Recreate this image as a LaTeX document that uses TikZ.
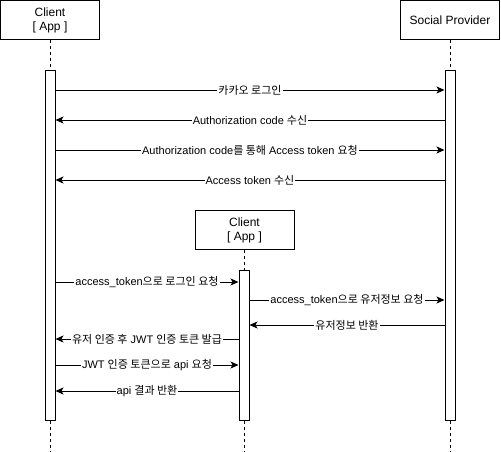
\documentclass[tikz,border=0pt]{standalone}
\usepackage{fontspec}
\setmainfont{Liberation Sans}
\newfontfamily\kr{Noto Sans CJK KR}[Scale=1.0]
\usetikzlibrary{arrows.meta}
\tikzset{
  actorbox/.style={draw=black, line width=1pt, fill=white, minimum width=99pt, minimum height=39pt, align=center, font=\fontsize{12}{14}\selectfont, inner sep=0pt},
  actbar/.style={draw=black, line width=1pt, fill=white, minimum width=10pt, inner sep=0pt},
  lifeline/.style={draw=black, line width=1pt, dash pattern=on 3pt off 3pt},
  msg/.style={draw=black, line width=1pt, -{Stealth[length=8pt,width=7pt,inset=2pt]}},
  msglabel/.style={fill=white, inner sep=1pt, font=\fontsize{11}{13}\selectfont}
}
\begin{document}
\begin{tikzpicture}[x=1pt,y=-1pt]
\useasboundingbox[fill=white] (0,0) rectangle (501,451);
% actors
\node[actorbox] (cl) at (50,20) {Client\\{[ App ]}};
\node[actorbox] (sp) at (450,20) {Social Provider};
\node[actorbox] (cm) at (244.5,230) {Client\\{[ App ]}};
% lifeline ends
\coordinate (eL) at (50,451);
\coordinate (eR) at (450,451);
\coordinate (eM) at (244,451);
% activation bars
\node[actbar, minimum height=350pt] (aL) at (50,245) {};
\node[actbar, minimum height=350pt] (aR) at (450,245) {};
\node[actbar, minimum height=150pt] (aM) at (244,345) {};
% lifelines
\draw[lifeline] (cl.south) -- (aL.north);
\draw[lifeline] (aL.south) -- (eL);
\draw[lifeline] (sp.south) -- (aR.north);
\draw[lifeline] (aR.south) -- (eR);
\draw[lifeline] (cm.south -| aM.north) -- (aM.north);
\draw[lifeline] (aM.south) -- (eM);
% message levels
\coordinate (y1) at (0,90);
\coordinate (y2) at (0,120);
\coordinate (y3) at (0,150);
\coordinate (y4) at (0,180);
\coordinate (y5) at (0,282);
\coordinate (y6) at (0,300);
\coordinate (y7) at (0,325);
\coordinate (y8) at (0,339);
\coordinate (y9) at (0,365);
\coordinate (y10) at (0,391);
% messages
\draw[msg] (aL.east |- y1) -- node[msglabel] {\kr 카카오 로그인} (aR.west |- y1);
\draw[msg] (aR.west |- y2) -- node[msglabel] {Authorization code {\kr 수신}} (aL.east |- y2);
\draw[msg] (aL.east |- y3) -- node[msglabel] {Authorization code{\kr 를 통해} Access token {\kr 요청}} (aR.west |- y3);
\draw[msg] (aR.west |- y4) -- node[msglabel] {Access token {\kr 수신}} (aL.east |- y4);
\draw[msg] (aL.east |- y5) -- node[msglabel] {access\_token{\kr 으로 로그인 요청}} (aM.west |- y5);
\draw[msg] (aM.east |- y6) -- node[msglabel] {access\_token{\kr 으로 유저정보 요청}} (aR.west |- y6);
\draw[msg] (aR.west |- y7) -- node[msglabel] {\kr 유저정보 반환} (aM.east |- y7);
\draw[msg] (aM.west |- y8) -- node[msglabel] {{\kr 유저 인증 후} JWT {\kr 인증 토큰 발급}} (aL.east |- y8);
\draw[msg] (aL.east |- y9) -- node[msglabel] {JWT {\kr 인증 토큰으로} api {\kr 요청}} (aM.west |- y9);
\draw[msg] (aM.west |- y10) -- node[msglabel] {api {\kr 결과 반환}} (aL.east |- y10);
\end{tikzpicture}
\end{document}
